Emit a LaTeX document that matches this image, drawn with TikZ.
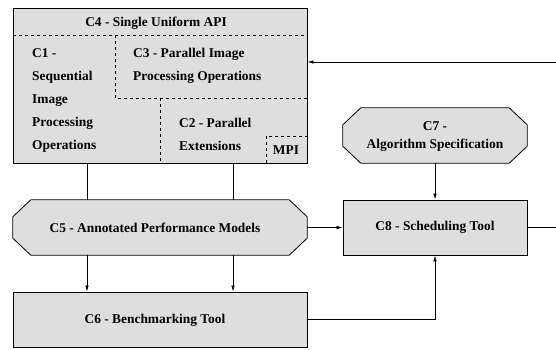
\documentclass[tikz,border=0pt]{standalone}
\usepackage{fontspec}
\setmainfont{Liberation Serif}
\usetikzlibrary{arrows.meta}

\tikzset{
  box/.style={draw, fill=black!13, line width=0.8pt, minimum width=#1, minimum height=55pt, inner sep=0pt},
  slot/.style={minimum width=#1, minimum height=55pt, inner sep=0pt},
  frame/.style={fill=black!13, line width=0.8pt},
  part/.style={dashed, dash pattern=on 3pt off 3pt, line width=0.7pt},
  bold/.style={font=\bfseries\fontsize{13.4}{15}\selectfont},
  lbl/.style={font=\bfseries\fontsize{13.4}{23}\selectfont, align=left, inner sep=0pt, anchor=north west},
  wire/.style={line width=0.7pt},
  arr/.style={wire, -{Latex[length=6pt,width=3.5pt]}}
}

% octagon outline round an empty node
\newcommand{\octframe}[1]{%
\draw[frame] ([xshift=18pt]#1.north west) -- ([xshift=-18pt]#1.north east) --
([yshift=-17pt]#1.north east) -- ([yshift=17pt]#1.south east) --
([xshift=-18pt]#1.south east) -- ([xshift=18pt]#1.south west) --
([yshift=17pt]#1.south west) -- ([yshift=-17pt]#1.north west) -- cycle;}

\begin{document}
\begin{tikzpicture}[x=1pt, y=-1pt]
\useasboundingbox (0,0) rectangle (556,350);

%Uniform API
\node[draw, fill=black!13, line width=0.8pt, minimum width=294pt, minimum height=155pt, inner sep=0pt] (api) at (160,85.5) {};
\node[bold] (apit) at (156,23) {C4 - Single Uniform API};

%%Parts
\draw[part] (13,35) -- (307,35);
\draw[part] (115,35) -- (115,98) -- (307,98);
\draw[part] (160,98) -- (160,163);
\draw[part] (266,163) -- (266,136) -- (307,136);

\node[lbl] (seq) at (32,48) {C1 -\\Sequential\\Image\\Processing\\Operations};
\node[lbl] (par) at (133,48) {C3 - Parallel Image\\Processing Operations};
\node[lbl] (ext) at (179,118) {C2 - Parallel\\Extensions};
\node[bold] (mpi) at (286,150) {MPI};

% Models, tools
\node[slot=294pt] (models) at (160,227.5) {};
\octframe{models}
\node[bold] (modelst) at (155,228) {C5 - Annotated Performance Models};
\node[box=294pt, bold] (bench) at (160,319.5) {};
\node[bold] (bencht) at (155,320) {C6 - Benchmarking Tool};
\node[slot=184pt] (algo) at (435,135.5) {};
\octframe{algo}
\node[bold, align=center, font=\bfseries\fontsize{13.4}{18}\selectfont] (algot) at (435,137) {C7 -\\Algorithm Specification};
\node[box=184pt, bold] (sched) at (435,227.5) {C8 - Scheduling Tool};

%% Connectors
\coordinate (l1) at (87,0);
\coordinate (l2) at (233,0);
\coordinate (back) at (556,62);
\coordinate (out) at (556,0);

\draw[wire] (api.south -| l1) -- (models.north -| l1);
\draw[wire] (api.south -| l2) -- (models.north -| l2);
\draw[arr] (models.south -| l1) -- (bench.north -| l1);
\draw[arr] (models.south -| l2) -- (bench.north -| l2);
\draw[arr] (models.east) -- (sched.west);
\draw[arr] (algo.south) -- (sched.north);
\draw[arr] (bench.east) -| (sched.south);
\draw[wire] (sched.east) -- (sched.east -| out);
\draw[arr] (back) -- (back -| api.east);
\end{tikzpicture}
\end{document}
